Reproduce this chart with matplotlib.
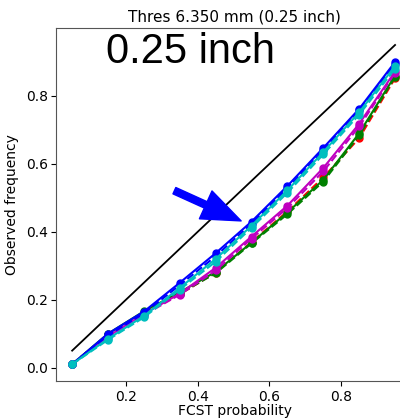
import numpy as np
from matplotlib import pyplot as plt

fcst = [0.05, 0.15, 0.25, 0.35, 0.45, 0.55, 0.65, 0.75, 0.85, 0.95]

blue_solid = [0.010, 0.100, 0.165, 0.250, 0.337, 0.430, 0.535, 0.647, 0.762, 0.900]
blue_dash = [0.010, 0.095, 0.160, 0.243, 0.328, 0.424, 0.528, 0.640, 0.758, 0.895]
cyan_solid = [0.010, 0.085, 0.152, 0.235, 0.320, 0.418, 0.522, 0.635, 0.752, 0.888]
cyan_dash = [0.010, 0.082, 0.148, 0.230, 0.312, 0.412, 0.515, 0.628, 0.745, 0.880]
mag_solid = [0.010, 0.092, 0.158, 0.218, 0.294, 0.386, 0.477, 0.588, 0.718, 0.872]
mag_dash = [0.010, 0.090, 0.155, 0.215, 0.286, 0.380, 0.470, 0.578, 0.710, 0.868]
green_solid = [0.010, 0.100, 0.166, 0.222, 0.282, 0.368, 0.457, 0.553, 0.690, 0.860]
green_dash = [0.010, 0.098, 0.162, 0.218, 0.278, 0.366, 0.452, 0.548, 0.684, 0.856]
red_dash = [0.010, 0.096, 0.160, 0.216, 0.280, 0.370, 0.460, 0.560, 0.676, 0.852]

fig = plt.figure(figsize=(4.0, 4.18), dpi=100)
ax = fig.add_axes([0.14, 0.088, 0.8925, 0.845])

ax.plot([0.05, 0.95], [0.05, 0.95], color='black', lw=1.3)

ax.plot(fcst, red_dash, 'o--', color='red', ms=5, lw=1.5)
ax.plot(fcst, green_dash, 'o--', color='green', ms=5, lw=1.5)
ax.plot(fcst, green_solid, 'o-', color='green', ms=5, lw=1.5)
ax.plot(fcst, mag_dash, 'o--', color='m', ms=5, lw=1.5)
ax.plot(fcst, mag_solid, 'o-', color='m', ms=5, lw=1.5)
ax.plot(fcst, blue_dash, 'o--', color='blue', ms=5, lw=1.5)
ax.plot(fcst, blue_solid, 'o-', color='blue', ms=5, lw=1.5)
ax.plot(fcst, cyan_dash, 'o--', color='c', ms=5, lw=1.5)
ax.plot(fcst, cyan_solid, 'o-', color='c', ms=5, lw=1.5)

# big blue arrow pointing at the curves
ax.annotate('', xy=(0.521, 0.432), xytext=(0.335, 0.521),
            arrowprops=dict(facecolor='blue', edgecolor='blue', width=5,
                            headwidth=22, headlength=28))

ax.text(0.38, 0.928, '0.25 inch', fontsize=30, family='Liberation Sans',
        ha='center', va='center')

ax.set_xlim(0.005, 1.0)
ax.set_ylim(-0.04, 1.0)
ax.set_xticks([0.2, 0.4, 0.6, 0.8])
ax.set_yticks([0.0, 0.2, 0.4, 0.6, 0.8])
ax.tick_params(labelsize=10, pad=2.5)
ax.set_xlabel('FCST probability', fontsize=10, labelpad=0)
ax.set_ylabel('Observed frequency', fontsize=10, labelpad=5)
ax.set_title('Thres 6.350 mm (0.25 inch)', fontsize=11, pad=5)
for s in ax.spines.values():
    s.set_color('#555555')

fig.savefig('out.png', dpi=100)
